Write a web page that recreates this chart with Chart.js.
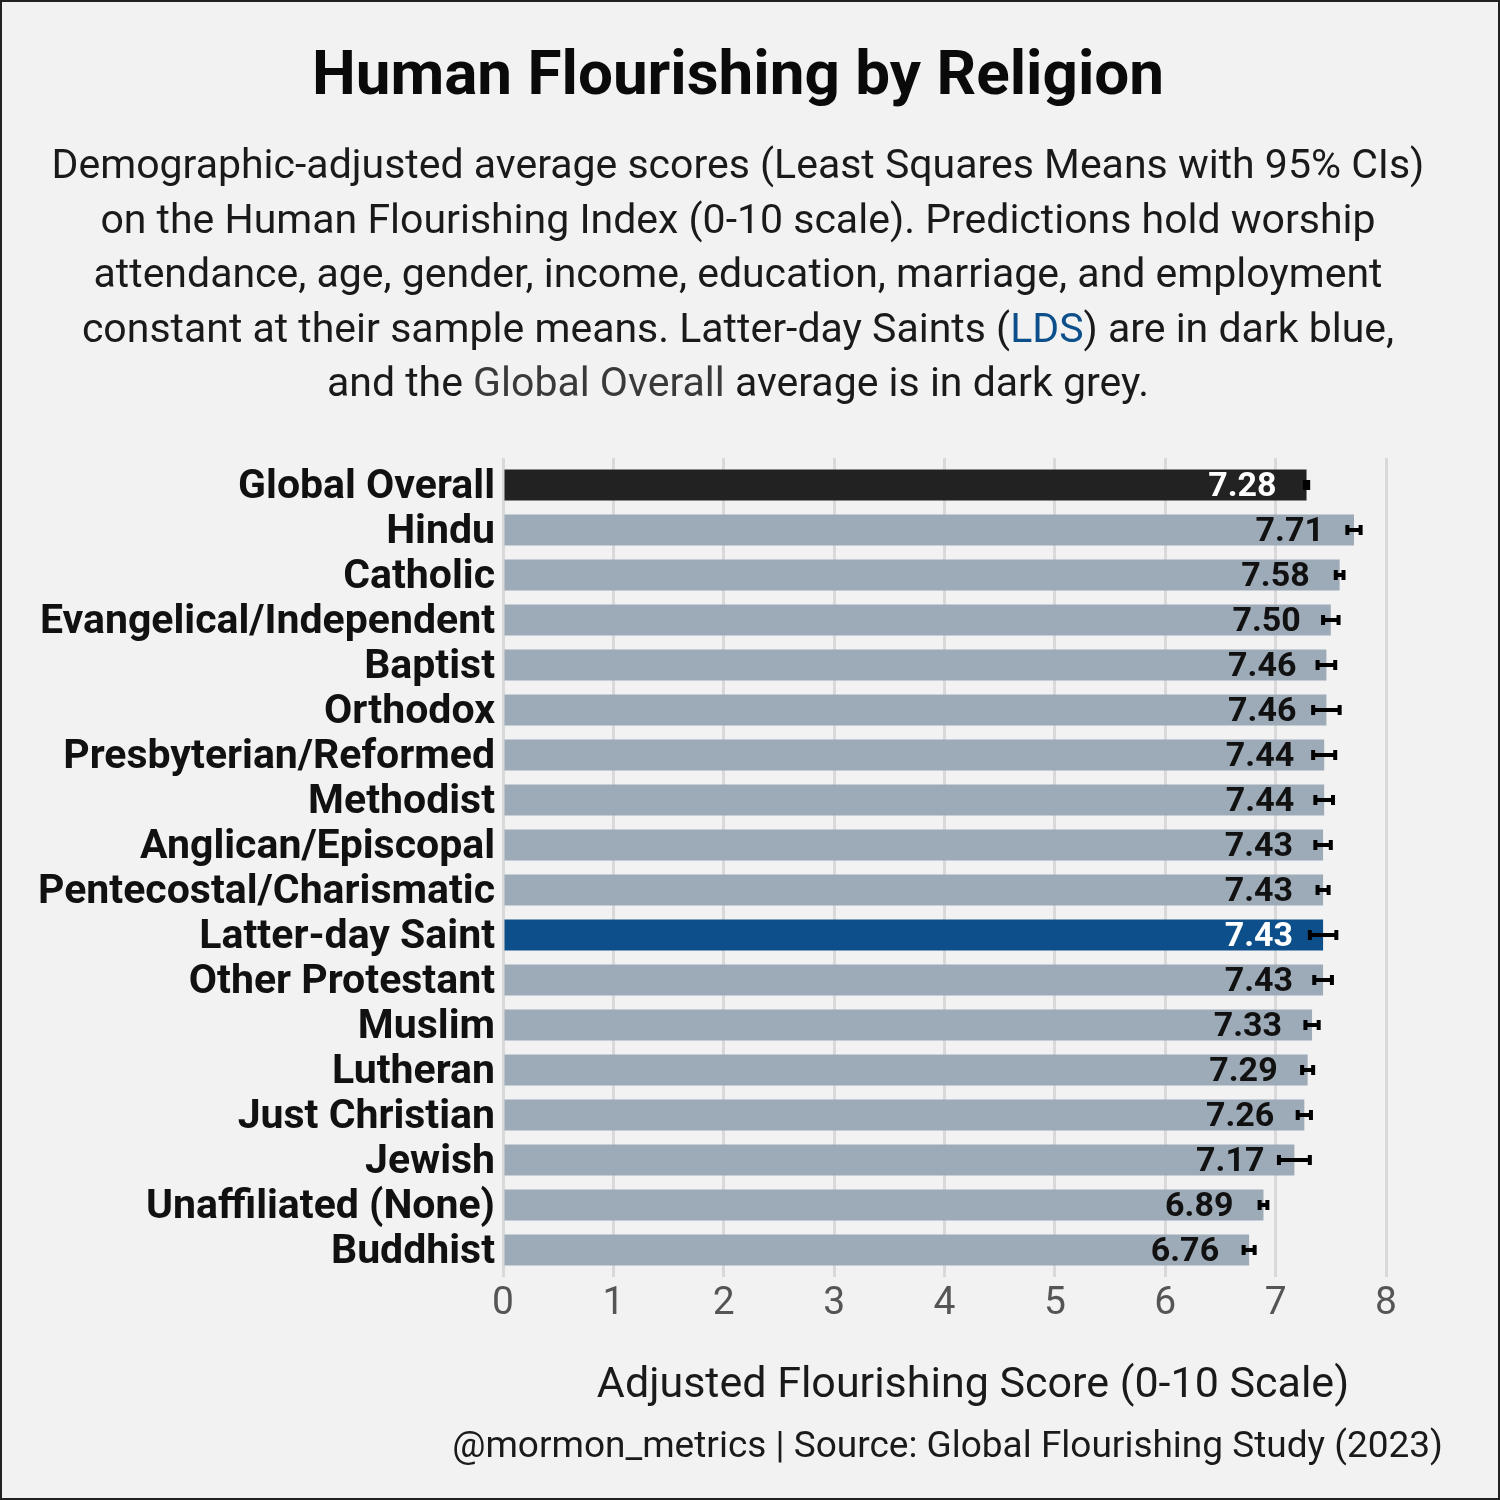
<!DOCTYPE html>
<html><head><meta charset="utf-8">
<script src="https://cdn.jsdelivr.net/npm/chart.js@4.4.1/dist/chart.umd.min.js"></script>
<style>
html,body{margin:0;padding:0;background:#f2f2f2;}
#wrap{position:relative;width:1500px;height:1500px;background:#f2f2f2;overflow:hidden;font-family:Roboto, "Noto Sans", sans-serif;color:#111;}
#c{position:absolute;left:0;top:0;}
#frame{position:absolute;left:0;top:0;width:1500px;height:1500px;box-sizing:border-box;border:2px solid #222;pointer-events:none;}
.t{position:absolute;white-space:nowrap;}
#title{left:0;width:1476px;text-align:center;top:38px;font-size:62px;font-weight:700;line-height:70px;color:#0a0a0a;}
#sub{left:0;width:1476px;text-align:center;top:137px;font-size:41px;line-height:54.5px;color:#1a1a1a;}
#xtitle{left:473px;width:1000px;text-align:center;top:1356px;font-size:43px;line-height:52px;color:#1a1a1a;}
#cap{right:57px;top:1423px;font-size:37px;line-height:44px;color:#1a1a1a;text-align:right;}
</style>
</head><body>
<div id="wrap">
<canvas id="c" width="1500" height="1500"></canvas>
<div id="title" class="t">Human Flourishing by Religion</div>
<div id="sub" class="t">Demographic-adjusted average scores (Least Squares Means with 95% CIs)<br>on the Human Flourishing Index (0-10 scale). Predictions hold worship<br>attendance, age, gender, income, education, marriage, and employment<br>constant at their sample means. Latter-day Saints (<span style="color:#0c4f8b">LDS</span>) are in dark blue,<br>and the <span style="color:#3a3a3a">Global Overall</span> average is in dark grey.</div>
<div id="xtitle" class="t">Adjusted Flourishing Score (0-10 Scale)</div>
<div id="cap" class="t">@mormon_metrics | Source: Global Flourishing Study (2023)</div>
<div id="frame"></div>
</div>
<script>
const categories = ["Global Overall","Hindu","Catholic","Evangelical/Independent","Baptist","Orthodox","Presbyterian/Reformed","Methodist","Anglican/Episcopal","Pentecostal/Charismatic","Latter-day Saint","Other Protestant","Muslim","Lutheran","Just Christian","Jewish","Unaffiliated (None)","Buddhist"];
const values = [7.28,7.71,7.58,7.50,7.46,7.46,7.44,7.44,7.43,7.43,7.43,7.43,7.33,7.29,7.26,7.17,6.89,6.76];
const ciLow  = [7.265,7.65,7.545,7.43,7.38,7.34,7.34,7.36,7.36,7.38,7.31,7.35,7.27,7.24,7.20,7.03,6.855,6.71];
const ciHigh = [7.295,7.77,7.615,7.57,7.54,7.58,7.54,7.52,7.50,7.48,7.55,7.51,7.39,7.34,7.32,7.31,6.925,6.81];
const xTickValues = [0,1,2,3,4,5,6,7,8];

const GREY = '#9daab7', DARK = '#222222', LDS = '#0c4f8b';
const barColors = categories.map(c => c === 'Global Overall' ? DARK : (c === 'Latter-day Saint' ? LDS : GREY));
const labelColors = categories.map(c => (c === 'Global Overall' || c === 'Latter-day Saint') ? '#ffffff' : '#111111');

const labelsAndErrors = {
  id: 'labelsAndErrors',
  afterDatasetsDraw(chart) {
    const ctx = chart.ctx, xs = chart.scales.x, ys = chart.scales.y;
    ctx.save();
    ctx.font = 'bold 34px Roboto';
    ctx.textAlign = 'right';
    ctx.textBaseline = 'middle';
    values.forEach((v, i) => {
      const y = ys.getPixelForValue(i);
      ctx.fillStyle = labelColors[i];
      ctx.fillText(v.toFixed(2), xs.getPixelForValue(v) - 30, y + 2);
    });
    ctx.fillStyle = '#000';
    values.forEach((v, i) => {
      const y = ys.getPixelForValue(i);
      const x1 = xs.getPixelForValue(ciLow[i]), x2 = xs.getPixelForValue(ciHigh[i]);
      ctx.fillRect(x1, y - 2, x2 - x1, 4);
      ctx.fillRect(x1 - 2, y - 5, 4, 10);
      ctx.fillRect(x2 - 2, y - 5, 4, 10);
    });
    ctx.restore();
  }
};

new Chart(document.getElementById('c'), {
  type: 'bar',
  data: {
    datasets: [{
      data: values.map((v, i) => ({ x: v, y: i })),
      backgroundColor: barColors,
      borderWidth: 0,
      categoryPercentage: 1,
      barPercentage: 0.69
    }]
  },
  options: {
    indexAxis: 'y',
    responsive: false,
    animation: false,
    devicePixelRatio: 1,
    layout: { padding: { top: 458, right: 114, bottom: 163, left: 0 } },
    plugins: { legend: { display: false }, tooltip: { enabled: false } },
    scales: {
      x: {
        type: 'linear', min: 0, max: 8,
        afterBuildTicks: s => { s.ticks = xTickValues.map(v => ({ value: v })); },
        grid: { color: '#d9d9d9', lineWidth: 3, drawTicks: false },
        border: { display: false },
        ticks: { color: '#555555', font: { family: 'Roboto', size: 39 }, padding: 4 },
        afterFit: s => { s.height = 60; }
      },
      y: {
        type: 'linear', reverse: true, min: -0.6, max: 17.6, offset: false,
        afterBuildTicks: s => { s.ticks = categories.map((_, i) => ({ value: i })); },
        grid: { display: false, drawTicks: false },
        border: { display: false },
        ticks: { autoSkip: false, color: '#111111', font: { family: 'Roboto', weight: 'bold', size: 41 }, padding: 8,
                 labelOffset: 3, callback: v => categories[v] },
        afterFit: s => { s.width = 503; }
      }
    }
  },
  plugins: [labelsAndErrors]
});
</script>
</body></html>
